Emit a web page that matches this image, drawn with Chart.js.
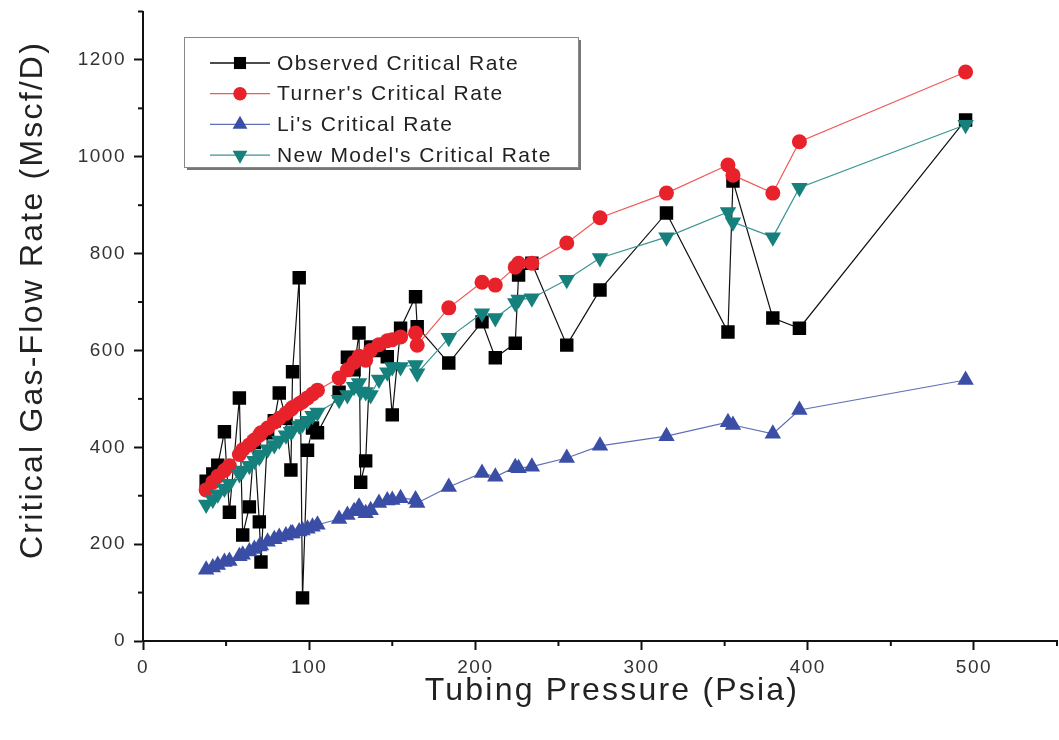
<!DOCTYPE html>
<html>
<head>
<meta charset="utf-8">
<script src="https://cdn.jsdelivr.net/npm/chart.js@4.4.1/dist/chart.umd.min.js"></script>
<style>
  body { margin: 0; background: #fff; overflow: hidden; }
  #wrap { width: 1059px; height: 740px; }
</style>
</head>
<body>
<div id="wrap"><canvas id="myChart"></canvas></div>
<script>
// tubing pressure (psia), shared by all four series
var pressure = [38, 42, 45, 49, 52, 58, 60, 64, 67, 70, 71, 75, 79, 82, 86, 89, 90, 94, 96, 99, 102, 105,
  118, 123, 127, 130, 131, 134, 137, 142, 147, 150, 155, 164, 165,
  184, 204, 212, 224, 226, 234, 255, 275, 315, 352, 355, 379, 395, 495];

var observed = [330, 345, 363, 432, 266, 502, 219, 277, 410, 246, 163, 430, 455, 512, 460, 353, 556, 750, 89, 394, 440, 430,
  514, 586, 560, 636, 328, 372, 607, 600, 587, 467, 646, 711, 649,
  574, 659, 585, 615, 756, 780, 611, 725, 884, 638, 950, 667, 646, 1076];

var turner = [312, 328, 340, 352, 362, 385, 395, 405, 415, 425, 430, 440, 452, 460, 470, 478, 482, 490, 494, 502, 510, 518,
  543, 560, 575, 588, 585, 580, 600, 612, 620, 622, 628, 636, 611,
  688, 741, 735, 772, 780, 780, 822, 874, 925, 983, 962, 925, 1031, 1175];

var li = [147, 152, 157, 163, 165, 175, 178, 185, 190, 195, 197, 205, 210, 215, 218, 222, 222, 226, 228, 232, 236, 240,
  252, 260, 268, 277, 268, 264, 270, 285, 290, 291, 295, 292, 285,
  318, 347, 339, 359, 357, 360, 378, 403, 423, 452, 446, 428, 477, 539];

var newModel = [282, 292, 303, 315, 325, 345, 352, 362, 372, 380, 385, 396, 405, 414, 425, 432, 435, 445, 448, 455, 465, 472,
  498, 508, 525, 533, 515, 514, 508, 540, 555, 566, 566, 570, 553,
  626, 677, 667, 698, 705, 708, 746, 791, 834, 886, 865, 834, 936, 1066];

var xTicks = [0, 100, 200, 300, 400, 500];
var yTicks = [0, 200, 400, 600, 800, 1000, 1200];

var FONT = '"Liberation Sans", Arial, sans-serif';

function points(values) {
  return pressure.map(function (p, i) { return { x: p, y: values[i] }; });
}

var series = [
  { label: 'Observed Critical Rate', values: observed, fill: '#000000', line: '#111111', style: 'rect', radius: 9.5, rotation: 0, order: 4 },
  { label: "Turner's Critical Rate", values: turner, fill: '#e8222b', line: '#f05a5a', style: 'circle', radius: 7.5, rotation: 0, order: 3 },
  { label: "Li's Critical Rate", values: li, fill: '#3a4ea6', line: '#6070b8', style: 'triangle', radius: 9.5, rotation: 0, order: 2 },
  { label: "New Model's Critical Rate", values: newModel, fill: '#15807c', line: '#3a9593', style: 'triangle', radius: 9.5, rotation: 180, order: 1 }
];

// wider letter spacing for the tick labels, as in the original figure
var spacing = {
  id: 'spacing',
  beforeDraw: function (chart) { chart.ctx.letterSpacing = '1.5px'; },
  afterDraw: function (chart) { chart.ctx.letterSpacing = '0px'; }
};

// legend box drawn inside the plot, like the original figure
var boxLegend = {
  id: 'boxLegend',
  afterDraw: function (chart) {
    var ctx = chart.ctx;
    var bx = 184, by = 37, bw = 394, bh = 130;
    ctx.save();
    ctx.fillStyle = '#777';
    ctx.fillRect(bx + 3, by + 3, bw, bh);
    ctx.fillStyle = '#fff';
    ctx.fillRect(bx, by, bw, bh);
    ctx.strokeStyle = '#888';
    ctx.lineWidth = 1;
    ctx.strokeRect(bx + 0.5, by + 0.5, bw, bh);
    ctx.font = '21px ' + FONT;
    ctx.letterSpacing = '1.4px';
    ctx.textBaseline = 'middle';
    series.forEach(function (s, i) {
      var y = 63 + i * 30.7;
      ctx.strokeStyle = s.line;
      ctx.lineWidth = 1.3;
      ctx.beginPath();
      ctx.moveTo(210, y);
      ctx.lineTo(270, y);
      ctx.stroke();
      ctx.fillStyle = s.fill;
      ctx.strokeStyle = s.fill;
      Chart.helpers.drawPoint(ctx, { pointStyle: s.style, radius: s.radius * 0.9, rotation: s.rotation, borderWidth: 0 }, 240, y);
      ctx.fillStyle = '#222';
      ctx.fillText(s.label, 277, y + 1);
    });
    ctx.restore();
  }
};

// minor ticks and the two axis titles
var axisExtras = {
  id: 'axisExtras',
  afterDraw: function (chart) {
    var ctx = chart.ctx;
    var xs = chart.scales.x, ys = chart.scales.y;
    var area = chart.chartArea;
    ctx.save();
    ctx.strokeStyle = '#111';
    ctx.lineWidth = 2;
    for (var v = 50; v <= 550; v += 100) {
      var px = xs.getPixelForValue(v);
      ctx.beginPath();
      ctx.moveTo(px, area.bottom);
      ctx.lineTo(px, area.bottom + 5);
      ctx.stroke();
    }
    for (var w = 100; w <= 1300; w += 200) {
      var py = ys.getPixelForValue(w);
      ctx.beginPath();
      ctx.moveTo(area.left, py);
      ctx.lineTo(area.left - 5, py);
      ctx.stroke();
    }
    ctx.fillStyle = '#222';
    ctx.font = '32px ' + FONT;
    ctx.letterSpacing = '2.2px';
    ctx.textAlign = 'center';
    ctx.textBaseline = 'middle';
    ctx.fillText('Tubing Pressure (Psia)', 612, 691);
    ctx.translate(33, 300);
    ctx.rotate(-Math.PI / 2);
    ctx.fillText('Critical Gas-Flow Rate (Mscf/D)', 0, 0);
    ctx.restore();
  }
};

function setTicks(list) {
  return function (scale) {
    scale.ticks = list.map(function (v) { return { value: v }; });
  };
}

function plain(v) { return String(v); }

document.addEventListener('DOMContentLoaded', function () {
  var ctx = document.getElementById('myChart').getContext('2d');
  new Chart(ctx, {
    type: 'scatter',
    data: {
      datasets: series.map(function (s) {
        return {
          label: s.label,
          data: points(s.values),
          showLine: true,
          order: s.order,
          borderColor: s.line,
          borderWidth: 1.2,
          backgroundColor: s.fill,
          pointBackgroundColor: s.fill,
          pointBorderColor: s.fill,
          pointBorderWidth: 0,
          pointStyle: s.style,
          pointRotation: s.rotation,
          pointRadius: s.radius,
          pointHoverRadius: s.radius
        };
      })
    },
    options: {
      responsive: true,
      maintainAspectRatio: false,
      animation: false,
      layout: { autoPadding: false, padding: { left: 0, right: 2, top: 0, bottom: 0 } },
      plugins: {
        legend: { display: false },
        tooltip: { enabled: false }
      },
      scales: {
        x: {
          type: 'linear',
          min: 0,
          max: 550,
          afterBuildTicks: setTicks(xTicks),
          afterFit: function (s) { s.height = 99; s.paddingLeft = 0; s.paddingRight = 0; },
          border: { color: '#111', width: 2 },
          grid: { drawOnChartArea: false, drawTicks: true, tickLength: 9, tickWidth: 2, tickColor: '#111' },
          ticks: { color: '#333', padding: 6, font: { family: FONT, size: 19 }, callback: plain }
        },
        y: {
          type: 'linear',
          min: 0,
          max: 1300,
          afterBuildTicks: setTicks(yTicks),
          afterFit: function (s) { s.width = 143; s.paddingTop = 11.5; s.paddingBottom = 0; },
          border: { color: '#111', width: 2 },
          grid: { drawOnChartArea: false, drawTicks: true, tickLength: 9, tickWidth: 2, tickColor: '#111' },
          ticks: { color: '#333', padding: 8, font: { family: FONT, size: 19 }, callback: plain }
        }
      }
    },
    plugins: [spacing, boxLegend, axisExtras]
  });
}, false);
</script>
</body>
</html>
